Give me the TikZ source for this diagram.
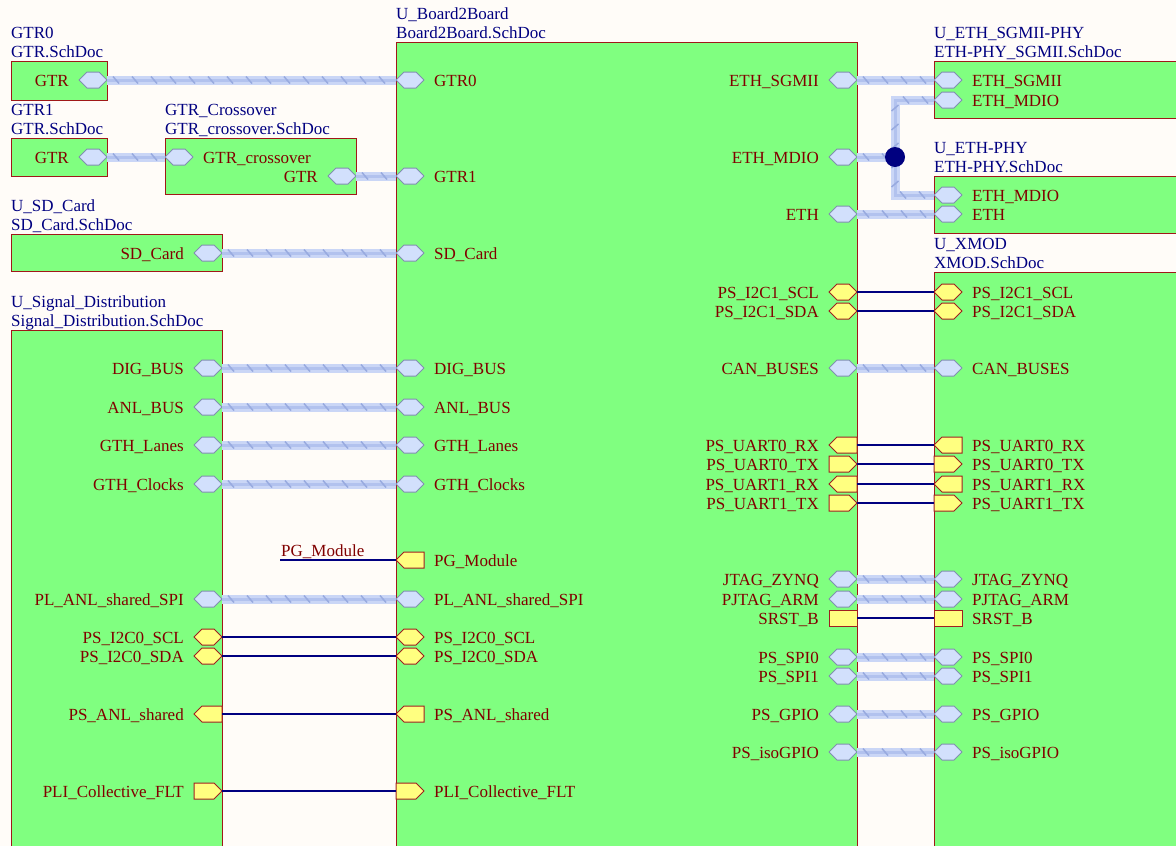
\documentclass[tikz,border=0pt]{standalone}
\usepackage{fontspec}
\setmainfont{Liberation Serif}
\usetikzlibrary{decorations.markings}
\definecolor{bg}{HTML}{FFFCF8}
\definecolor{sheetfill}{HTML}{80FF80}
\definecolor{sheetdraw}{HTML}{A01818}
\definecolor{navy}{HTML}{000080}
\definecolor{dred}{HTML}{800000}
\definecolor{hexfill}{HTML}{D2E0FC}
\definecolor{hexdraw}{HTML}{8090B0}
\definecolor{yfill}{HTML}{FFFF80}
\definecolor{ydraw}{HTML}{A02020}
\definecolor{busA}{HTML}{CAD6F6}
\definecolor{busB}{HTML}{B2C2EE}
\definecolor{busC}{HTML}{98AADF}
\tikzset{
 txt/.style={font=\fontsize{17}{20}\selectfont, inner sep=0pt},
 sname/.style={txt, text=navy, anchor=base west},
 ptR/.style={txt, text=dred, anchor=base east},
 ptL/.style={txt, text=dred, anchor=base west},
 sheet/.style={draw=sheetdraw, fill=sheetfill, line width=1.2pt, anchor=north west, inner sep=0pt},
 portbox/.style={rectangle, minimum width=28pt, minimum height=16pt, inner sep=0pt, outer sep=0pt},
 bport/.style={fill=hexfill, draw=hexdraw, line width=1pt, line join=round},
 yport/.style={fill=yfill, draw=ydraw, line width=1pt, line join=miter},
 wire/.style={draw=navy, line width=1.6pt},
 bus/.style={draw=busB, line width=3pt, preaction={draw=busA, line width=9pt},
   postaction={decorate, decoration={markings, mark=between positions 9pt and -4pt step 19pt with {\draw[busC, line width=1.5pt] (-3,-3.5) -- (3,3.5);}}}},
 junc/.style={circle, fill=navy, minimum size=20pt, inner sep=0pt},
}
% port outlines drawn from the named port box
\newcommand\shphex[1]{\draw[bport] (#1.west) -- ([xshift=8pt]#1.north west) -- ([xshift=-8pt]#1.north east) -- (#1.east) -- ([xshift=-8pt]#1.south east) -- ([xshift=8pt]#1.south west) -- cycle;}
\newcommand\shpyhex[1]{\draw[yport] (#1.west) -- ([xshift=8pt]#1.north west) -- ([xshift=-8pt]#1.north east) -- (#1.east) -- ([xshift=-8pt]#1.south east) -- ([xshift=8pt]#1.south west) -- cycle;}
\newcommand\shpin[1]{\draw[yport] (#1.west) -- ([xshift=8pt]#1.north west) -- (#1.north east) -- (#1.south east) -- ([xshift=8pt]#1.south west) -- cycle;}
\newcommand\shpout[1]{\draw[yport] (#1.north west) -- ([xshift=-8pt]#1.north east) -- (#1.east) -- ([xshift=-8pt]#1.south east) -- (#1.south west) -- cycle;}
\newcommand\shprect[1]{\draw[yport] (#1.north west) rectangle (#1.south east);}
\newcommand\pR[5]{\node[portbox] (#1) at (#2,#3) {}; \csname shp#4\endcsname{#1} \node[ptR] (#1t) at (#2-24,#3+6) {#5};}
\newcommand\pL[5]{\node[portbox] (#1) at (#2,#3) {}; \csname shp#4\endcsname{#1} \node[ptL] (#1t) at (#2+24,#3+6) {#5};}
\newcommand\sheetlbl[5]{\node[sname] (#1a) at (#2,#3-23) {#4}; \node[sname] (#1b) at (#2,#3-4) {#5};}
\begin{document}
\begin{tikzpicture}[x=1pt,y=-1pt]
\useasboundingbox (0,0) rectangle (1176,846);
\clip (0,0) rectangle (1176,846);
\fill[bg] (0,0) rectangle (1176,846);
% sheets
\node[sheet, minimum width=96pt, minimum height=39pt] (gtr0) at (11,61) {};
\node[sheet, minimum width=96pt, minimum height=38pt] (gtr1) at (11,138) {};
\node[sheet, minimum width=191pt, minimum height=56pt] (cross) at (165,138) {};
\node[sheet, minimum width=211pt, minimum height=37pt] (sd) at (11,234) {};
\node[sheet, minimum width=211pt, minimum height=540pt] (sig) at (11,330) {};
\node[sheet, minimum width=461pt, minimum height=828pt] (b2b) at (396,42) {};
\node[sheet, minimum width=266pt, minimum height=57pt] (sgmii) at (934,61) {};
\node[sheet, minimum width=266pt, minimum height=57pt] (ethphy) at (934,176) {};
\node[sheet, minimum width=266pt, minimum height=598pt] (xmod) at (934,272) {};
% sheet labels
\sheetlbl{lg0}{11}{61}{GTR0}{GTR.SchDoc}
\sheetlbl{lg1}{11}{138}{GTR1}{GTR.SchDoc}
\sheetlbl{lcr}{165}{138}{GTR\_Crossover}{GTR\_crossover.SchDoc}
\sheetlbl{lsd}{11}{234}{U\_SD\_Card}{SD\_Card.SchDoc}
\sheetlbl{lsig}{11}{330}{U\_Signal\_Distribution}{Signal\_Distribution.SchDoc}
\sheetlbl{lb2b}{396}{42}{U\_Board2Board}{Board2Board.SchDoc}
\sheetlbl{lsg}{934}{61}{U\_ETH\_SGMII-PHY}{ETH-PHY\_SGMII.SchDoc}
\sheetlbl{leth}{934}{176}{U\_ETH-PHY}{ETH-PHY.SchDoc}
\sheetlbl{lxm}{934}{272}{U\_XMOD}{XMOD.SchDoc}
% small sheet ports
\pR{g0}{93}{80}{hex}{GTR}
\pR{g1}{93}{157}{hex}{GTR}
\pL{cIn}{179}{157}{hex}{GTR\_crossover}
\pR{cOut}{342}{176}{hex}{GTR}
\pR{sdp}{208}{253}{hex}{SD\_Card}
% signal distribution ports
\pR{sR4}{208}{368}{hex}{DIG\_BUS}
\pR{sR5}{208}{407}{hex}{ANL\_BUS}
\pR{sR6}{208}{445}{hex}{GTH\_Lanes}
\pR{sR7}{208}{484}{hex}{GTH\_Clocks}
\pR{sR9}{208}{599}{hex}{PL\_ANL\_shared\_SPI}
\pR{sR10}{208}{637}{yhex}{PS\_I2C0\_SCL}
\pR{sR11}{208}{656}{yhex}{PS\_I2C0\_SDA}
\pR{sR12}{208}{714}{in}{PS\_ANL\_shared}
\pR{sR13}{208}{791}{out}{PLI\_Collective\_FLT}
% board2board left ports
\pL{bL1}{410}{80}{hex}{GTR0}
\pL{bL2}{410}{176}{hex}{GTR1}
\pL{bL3}{410}{253}{hex}{SD\_Card}
\pL{bL4}{410}{368}{hex}{DIG\_BUS}
\pL{bL5}{410}{407}{hex}{ANL\_BUS}
\pL{bL6}{410}{445}{hex}{GTH\_Lanes}
\pL{bL7}{410}{484}{hex}{GTH\_Clocks}
\pL{bL8}{410}{560}{in}{PG\_Module}
\pL{bL9}{410}{599}{hex}{PL\_ANL\_shared\_SPI}
\pL{bL10}{410}{637}{yhex}{PS\_I2C0\_SCL}
\pL{bL11}{410}{656}{yhex}{PS\_I2C0\_SDA}
\pL{bL12}{410}{714}{in}{PS\_ANL\_shared}
\pL{bL13}{410}{791}{out}{PLI\_Collective\_FLT}
% board2board right ports
\pR{bR1}{843}{80}{hex}{ETH\_SGMII}
\pR{bR2}{843}{157}{hex}{ETH\_MDIO}
\pR{bR3}{843}{214}{hex}{ETH}
\pR{bR4}{843}{292}{yhex}{PS\_I2C1\_SCL}
\pR{bR5}{843}{311}{yhex}{PS\_I2C1\_SDA}
\pR{bR6}{843}{368}{hex}{CAN\_BUSES}
\pR{bR7}{843}{445}{in}{PS\_UART0\_RX}
\pR{bR8}{843}{464}{out}{PS\_UART0\_TX}
\pR{bR9}{843}{484}{in}{PS\_UART1\_RX}
\pR{bR10}{843}{503}{out}{PS\_UART1\_TX}
\pR{bR11}{843}{579}{hex}{JTAG\_ZYNQ}
\pR{bR12}{843}{599}{hex}{PJTAG\_ARM}
\pR{bR13}{843}{618}{rect}{SRST\_B}
\pR{bR14}{843}{657}{hex}{PS\_SPI0}
\pR{bR15}{843}{676}{hex}{PS\_SPI1}
\pR{bR16}{843}{714}{hex}{PS\_GPIO}
\pR{bR17}{843}{752}{hex}{PS\_isoGPIO}
% eth sheets
\pL{eL1}{948}{80}{hex}{ETH\_SGMII}
\pL{eL2}{948}{100}{hex}{ETH\_MDIO}
\pL{pL1}{948}{195}{hex}{ETH\_MDIO}
\pL{pL2}{948}{214}{hex}{ETH}
% xmod ports
\pL{xL4}{948}{292}{yhex}{PS\_I2C1\_SCL}
\pL{xL5}{948}{311}{yhex}{PS\_I2C1\_SDA}
\pL{xL6}{948}{368}{hex}{CAN\_BUSES}
\pL{xL7}{948}{445}{in}{PS\_UART0\_RX}
\pL{xL8}{948}{464}{out}{PS\_UART0\_TX}
\pL{xL9}{948}{484}{in}{PS\_UART1\_RX}
\pL{xL10}{948}{503}{out}{PS\_UART1\_TX}
\pL{xL11}{948}{579}{hex}{JTAG\_ZYNQ}
\pL{xL12}{948}{599}{hex}{PJTAG\_ARM}
\pL{xL13}{948}{618}{rect}{SRST\_B}
\pL{xL14}{948}{657}{hex}{PS\_SPI0}
\pL{xL15}{948}{676}{hex}{PS\_SPI1}
\pL{xL16}{948}{714}{hex}{PS\_GPIO}
\pL{xL17}{948}{752}{hex}{PS\_isoGPIO}
% buses
\draw[bus] (g0.east) -- (bL1.west);
\draw[bus] (g1.east) -- (cIn.west);
\draw[bus] (cOut.east) -- (bL2.west);
\draw[bus] (sdp.east) -- (bL3.west);
\foreach \i in {4,5,6,7,9} {\draw[bus] (sR\i.east) -- (bL\i.west);}
\foreach \i in {10,11,12,13} {\draw[wire] (sR\i.east) -- (bL\i.west);}
\draw[bus] (bR1.east) -- (eL1.west);
\draw[bus] (bR3.east) -- (pL2.west);
\coordinate (J) at (895,157);
\draw[bus] (bR2.east) -- (J);
\draw[bus] (eL2.west) -| (J) |- (pL1.west);
\foreach \i in {6,11,12,14,15,16,17} {\draw[bus] (bR\i.east) -- (xL\i.west);}
\foreach \i in {4,5,7,8,9,10,13} {\draw[wire] (bR\i.east) -- (xL\i.west);}
\node[junc] (jdot) at (J) {};
% PG_Module net
\coordinate (pgend) at (280,560);
\draw[wire] (pgend) -- (bL8.west);
\node[ptL] (pglbl) at (281,556) {PG\_Module};
\end{tikzpicture}
\end{document}
